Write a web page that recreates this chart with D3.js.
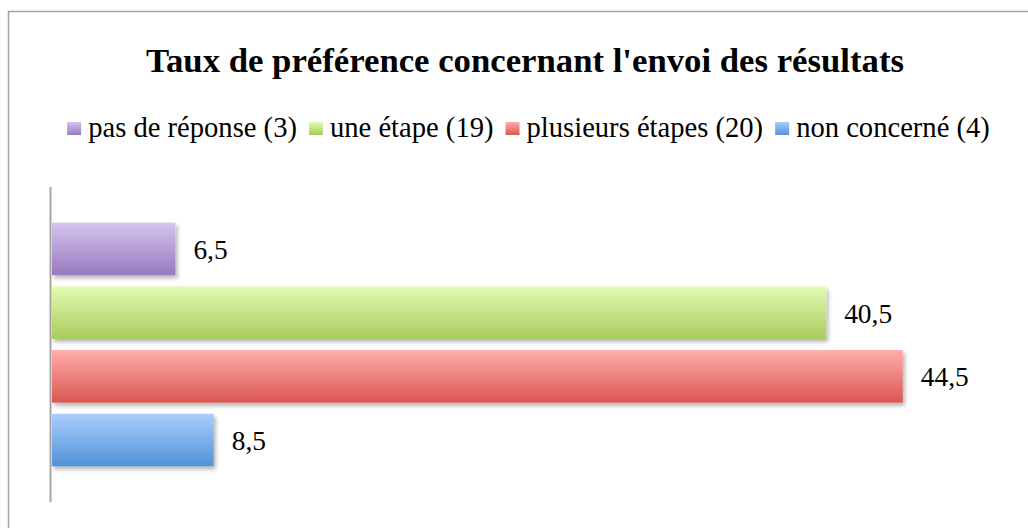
<!DOCTYPE html>
<html><head><meta charset="utf-8">
<script src="https://cdn.jsdelivr.net/npm/d3@7"></script>
<style>html,body{margin:0;padding:0;background:#fff;} svg{display:block;}</style>
</head><body>
<svg id="c" width="1028" height="528"></svg>
<script>
const title = "Taux de préférence concernant l'envoi des résultats";
const series = ["pas de réponse (3)", "une étape (19)", "plusieurs étapes (20)", "non concerné (4)"];
const values = [6.5, 40.5, 44.5, 8.5];
const colorTop = ["#d5c3f0", "#e3fbb2", "#ffadab", "#aacdfd"];
const colorBottom = ["#987abd", "#a8cb5d", "#db5750", "#5193d7"];

const FONT = "'Liberation Serif', 'DejaVu Serif', serif";
const svg = d3.select("#c");
svg.append("rect").attr("width",1028).attr("height",528).attr("fill","#fff");

const defs = svg.append("defs");
series.forEach((s,i)=>{
  const g = defs.append("linearGradient").attr("id","g"+i).attr("x1",0).attr("y1",0).attr("x2",0).attr("y2",1);
  g.append("stop").attr("offset","0%").attr("stop-color",colorTop[i]);
  g.append("stop").attr("offset","100%").attr("stop-color",colorBottom[i]);
});
const f = defs.append("filter").attr("id","sh").attr("x","-10%").attr("y","-20%").attr("width","130%").attr("height","160%");
f.append("feDropShadow").attr("dx",2).attr("dy",3).attr("stdDeviation",2).attr("flood-color","#000").attr("flood-opacity",0.3);

// frame
svg.append("rect").attr("x",8.5).attr("y",11.5).attr("width",1040).attr("height",540)
  .attr("fill","none").attr("stroke","#a3a3a3").attr("stroke-width",1.5);

function fit(sel, target){
  const len = sel.node().getComputedTextLength();
  const fs = parseFloat(sel.attr("font-size"));
  sel.attr("font-size", fs*target/len);
}

// title
const t = svg.append("text").attr("x",525).attr("y",72).attr("text-anchor","middle")
  .attr("font-family",FONT).attr("font-weight","bold").attr("font-size",30).attr("fill","#000").text(title);
fit(t, 758);

// scales
const x = d3.scaleLinear().domain([0,50]).range([51,1008]);
const y = d3.scaleBand().domain(series).range([187,502]).paddingInner(0.175).paddingOuter(0.56);

// legend
const legG = svg.append("g");
const items = legG.selectAll("g").data(series).join("g");
items.append("rect").attr("width",14).attr("height",13).attr("y",122)
  .attr("fill",(d,i)=>"url(#g"+i+")");
const texts = items.append("text").attr("y",137).attr("font-family",FONT).attr("font-size",22).attr("fill","#000").text(d=>d);
// fit font size to total text width
let tot = 0; texts.each(function(){tot += this.getComputedTextLength();});
const legFs = 22*(208+165+238+192)/tot;
texts.attr("font-size",legFs);
const widths = []; texts.each(function(){widths.push(this.getComputedTextLength());});
const sq = 15, gap1 = 6, gap2 = 12;
let totalW = 0; widths.forEach((w,i)=>{ totalW += sq+gap1+w + (i<widths.length-1?gap2:0); });
let cx = 528.5 - totalW/2;
items.each(function(d,i){
  const g = d3.select(this);
  g.select("rect").attr("x",cx);
  g.select("text").attr("x",cx+sq+gap1);
  cx += sq+gap1+widths[i]+gap2;
});

// bars
const fmt = d3.formatLocale({decimal:",",thousands:" ",grouping:[3],currency:["","€"]}).format(".1f");
svg.append("g").selectAll("rect").data(values).join("rect")
  .attr("x",x(0)+1).attr("y",(d,i)=>y(series[i]))
  .attr("width",d=>x(d)-x(0)-1).attr("height",y.bandwidth())
  .attr("fill",(d,i)=>"url(#g"+i+")").attr("filter","url(#sh)");

// axis
svg.append("line").attr("x1",50.5).attr("x2",50.5).attr("y1",187).attr("y2",502)
  .attr("stroke","#a6a6a6").attr("stroke-width",2);

// labels
const labs = svg.append("g").selectAll("text").data(values).join("text")
  .attr("x",d=>x(d)+18).attr("y",(d,i)=>y(series[i])+y.bandwidth()/2+10)
  .attr("font-family",FONT).attr("font-size",26).attr("fill","#000").text(d=>fmt(d));
const l1 = labs.filter((d,i)=>i===1);
const lw = l1.node().getComputedTextLength();
labs.attr("font-size",26*48/lw);
</script>
</body></html>
